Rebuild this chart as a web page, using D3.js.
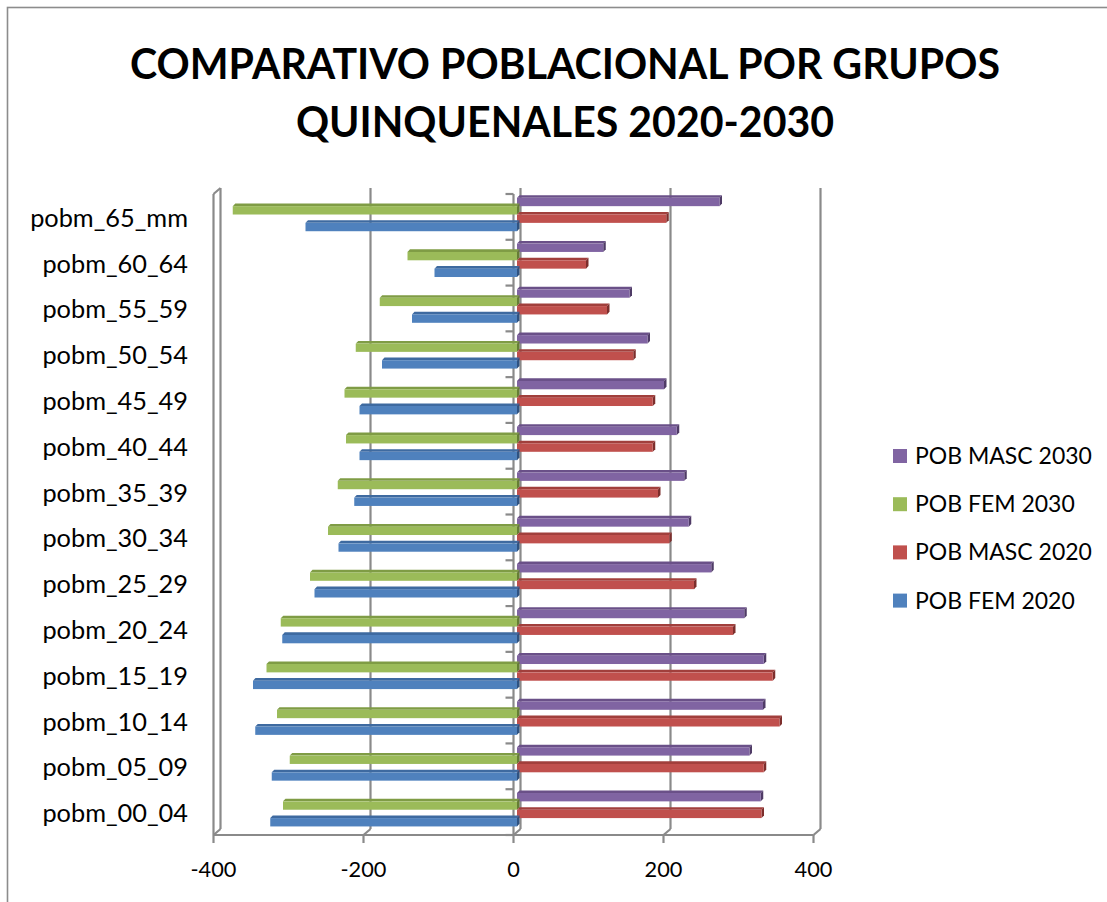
<!DOCTYPE html>
<html><head><meta charset="utf-8">
<script src="https://cdn.jsdelivr.net/npm/d3@7"></script>
<style>body{margin:0;background:#fff} svg{display:block}</style>
</head><body>
<svg id="c" width="1107" height="902"></svg>
<script>
// ---- data (bottom category first) ----
const categories = ["pobm_00_04","pobm_05_09","pobm_10_14","pobm_15_19","pobm_20_24","pobm_25_29","pobm_30_34","pobm_35_39","pobm_40_44","pobm_45_49","pobm_50_54","pobm_55_59","pobm_60_64","pobm_65_mm"];
const fem2020  = [-329,-327,-349,-352,-313,-270,-238,-217,-210,-210,-180,-140,-110,-282];
const masc2020 = [ 326, 329, 350, 341, 288, 236, 203, 188, 181, 181, 155, 120,  92, 199];
const fem2030  = [-312,-303,-320,-334,-315,-276,-252,-239,-228,-230,-215,-183,-146,-379];
const masc2030 = [ 325, 310, 328, 329, 303, 259, 229, 223, 213, 196, 174, 150, 115, 270];
const seriesNames = ["POB MASC 2030","POB FEM 2030","POB MASC 2020","POB FEM 2020"];
const xTicks = [-400,-200,0,200,400];
const titleLines = ["COMPARATIVO POBLACIONAL POR GRUPOS","QUINQUENALES 2020-2030"];

const seriesData = {"POB MASC 2030":masc2030,"POB FEM 2030":fem2030,"POB MASC 2020":masc2020,"POB FEM 2020":fem2020};
const colors = {
  "POB MASC 2030":{f:"#8064A2",t:"#6a5088",e:"#4f3b66"},
  "POB FEM 2030": {f:"#9BBB59",t:"#7f9c45",e:"#657d35"},
  "POB MASC 2020":{f:"#C0504D",t:"#a13f3c",e:"#7d2e2c"},
  "POB FEM 2020": {f:"#4F81BD",t:"#3e6aa0",e:"#2f5280"}
};

const svg = d3.select("#c");
const FONT = "Lato, Carlito, 'Open Sans', sans-serif";
const GRID = "#8a8a8a";

// border
svg.append("rect").attr("x",7.5).attr("y",7.5).attr("width",1112).attr("height",905)
  .attr("fill","none").attr("stroke","#8c8c8c").attr("stroke-width",1.6);

// scales
const x = d3.scaleLinear().domain([-400,400]).range([213.5,813.5]);
const y = d3.scaleBand().domain(categories.slice().reverse()).range([194,835]).padding(0);
const bw = y.bandwidth();
const inner = d3.scaleBand().domain(seriesNames).range([0, bw*0.73]).padding(0);
const DX = 7, DY = -6;          // wall depth
const bdx = 3.5, bdy = -1.2;    // bar front-face depth shift
const tdx = 2.5, tdy = -2.6;    // bar top/end face depth

const g = svg.append("g");
// back wall gridlines + floor
xTicks.forEach(t => {
  const xf = x(t);
  g.append("line").attr("x1",xf+DX).attr("x2",xf+DX).attr("y1",835+DY).attr("y2",194+DY)
    .attr("stroke",GRID).attr("stroke-width",2.2);
  g.append("line").attr("x1",xf).attr("y1",835).attr("x2",xf+DX).attr("y2",835+DY)
    .attr("stroke",GRID).attr("stroke-width",2.2);
  g.append("line").attr("x1",xf).attr("y1",835).attr("x2",xf).attr("y2",843)
    .attr("stroke",GRID).attr("stroke-width",2.2);
});
// floor front edge
g.append("line").attr("x1",x(-400)).attr("x2",x(400)).attr("y1",835).attr("y2",835)
  .attr("stroke",GRID).attr("stroke-width",2.2);
// left wall front edge + top diagonal
g.append("line").attr("x1",x(-400)).attr("x2",x(-400)).attr("y1",194).attr("y2",835)
  .attr("stroke",GRID).attr("stroke-width",2.2);
g.append("line").attr("x1",x(-400)).attr("y1",194).attr("x2",x(-400)+DX).attr("y2",194+DY)
  .attr("stroke",GRID).attr("stroke-width",2.2);
// category axis at zero (front)
g.append("line").attr("x1",x(0)).attr("x2",x(0)).attr("y1",194).attr("y2",835)
  .attr("stroke",GRID).attr("stroke-width",2.2);
const bounds = y.domain().map(c => y(c)).concat([835]);
bounds.forEach(b => g.append("line").attr("x1",x(0)-8).attr("x2",x(0)).attr("y1",b).attr("y2",b)
  .attr("stroke",GRID).attr("stroke-width",2.2));

// bars
const bars = svg.append("g");
y.domain().forEach(cat => {
  const ci = categories.indexOf(cat);
  seriesNames.forEach(s => {
    const v = seriesData[s][ci];
    const c = colors[s];
    const x0 = Math.min(x(0),x(v)) + bdx, x1 = Math.max(x(0),x(v)) + bdx;
    const yt = y(cat) + 5 + inner(s) + bdy, yb = yt + inner.bandwidth();
    bars.append("path").attr("d",`M${x0},${yt}L${x1},${yt}L${x1+tdx},${yt+tdy}L${x0+tdx},${yt+tdy}Z`)
      .attr("fill",c.t);
    bars.append("path").attr("d",`M${x1},${yt}L${x1+tdx},${yt+tdy}L${x1+tdx},${yb+tdy}L${x1},${yb}Z`)
      .attr("fill",c.e);
    bars.append("rect").attr("x",x0).attr("y",yt).attr("width",x1-x0).attr("height",yb-yt)
      .attr("fill",c.f);
  });
});

function fitFont(sel, target, base) {
  sel.attr("font-size", base);
  const w = sel.node().getComputedTextLength();
  return base*target/w;
}

// y labels
const yl = svg.append("g").attr("font-family",FONT).attr("fill","#000");
const ylabels = yl.selectAll("text").data(y.domain()).join("text")
  .attr("x",188).attr("y",d => y(d)+bw/2+10).attr("text-anchor","end").text(d=>d);
const yfs = fitFont(ylabels.filter(d=>d==="pobm_65_mm"),158,22);
ylabels.attr("font-size",yfs);

// x tick labels
const xl = svg.append("g").attr("font-family",FONT).attr("fill","#000");
const xlabels = xl.selectAll("text").data(xTicks).join("text")
  .attr("x",d=>x(d)).attr("y",876.5).attr("text-anchor","middle").text(d=>d);
const xfs = fitFont(xlabels.filter(d=>d===-400),46,22);
xlabels.attr("font-size",xfs);

// title
const tl = svg.append("g").attr("font-family",FONT).attr("font-weight","bold").attr("fill","#000");
const tt = tl.selectAll("text").data(titleLines).join("text")
  .attr("x",565).attr("y",(d,i)=>79+i*58).attr("text-anchor","middle").text(d=>d);
const tfs = fitFont(tt.filter((d,i)=>i===0),870,40);
tt.attr("font-size",tfs);

// legend
const lg = svg.append("g").attr("font-family",FONT);
seriesNames.forEach((s,i) => {
  lg.append("rect").attr("x",893).attr("y",449+i*48.2).attr("width",14).attr("height",14).attr("fill",colors[s].f);
  lg.append("text").attr("x",915).attr("y",464+i*48.2).attr("fill","#000").attr("class","lt").text(s);
});
const lts = lg.selectAll("text.lt");
const lfs = fitFont(lts.filter((d,i)=>i===0),177,22);
lts.attr("font-size",lfs);
</script>
</body></html>
